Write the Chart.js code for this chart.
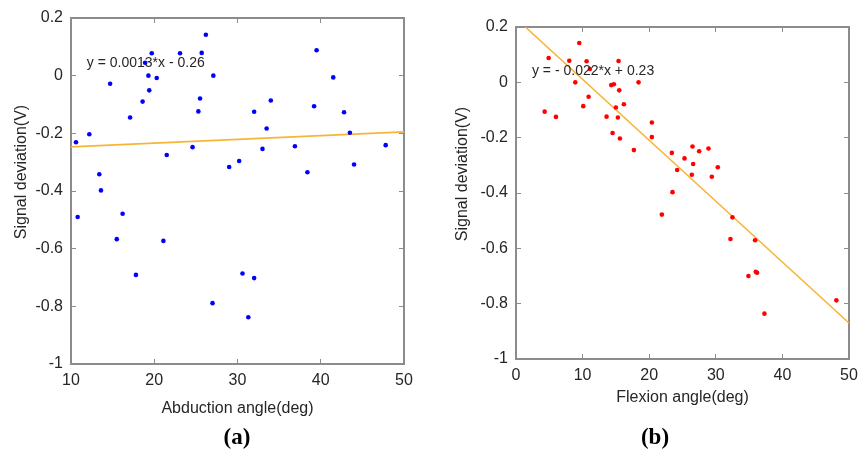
<!DOCTYPE html>
<html>
<head>
    <title>Signal deviation vs angle</title>
    <script src="https://cdn.jsdelivr.net/npm/chart.js@4"></script>
    <style>
        body { margin: 0; background: #fff; width: 858px; height: 450px; position: relative; overflow: hidden; }
        canvas { position: absolute; top: 0; }
        .tag { position: absolute; top: 424px; font: bold 23px "Liberation Serif", serif; color: #000; transform: translateX(-50%); }
    </style>
</head>
<body>
<canvas id="chartA" width="430" height="425" style="left:0"></canvas>
<canvas id="chartB" width="418" height="425" style="left:440px"></canvas>
<div class="tag" style="left:237px">(a)</div>
<div class="tag" style="left:655px">(b)</div>
<script>
    // (a) abduction angle vs signal deviation
    var abdAngle = [10.6, 10.8, 12.2, 13.4, 13.6, 14.7, 15.5, 16.2, 17.1, 17.8, 18.6, 18.9, 19.3, 19.4, 19.7,
                    20.3, 21.1, 21.5, 23.1, 24.6, 25.3, 25.5, 25.7, 26.2, 27.0, 27.1, 29.0, 30.2, 30.6, 31.3,
                    32.0, 32.0, 33.0, 33.5, 34.0, 36.9, 38.4, 39.2, 39.5, 41.5, 42.8, 43.5, 44.0, 47.8];
    var abdDev = [-0.231, -0.490, -0.203, -0.342, -0.398, -0.028, -0.567, -0.479, -0.145, -0.691, -0.090, 0.045, 0.000, -0.051, 0.078,
                  -0.008, -0.573, -0.275, 0.078, -0.248, -0.124, -0.079, 0.079, 0.142, -0.789, 0.000, -0.317, -0.296, -0.686, -0.838,
                  -0.125, -0.702, -0.254, -0.183, -0.086, -0.245, -0.335, -0.106, 0.088, -0.006, -0.127, -0.198, -0.308, -0.241];
    var fitA_x = [10, 50];
    var fitA_y = [-0.247, -0.195];

    // (b) flexion angle vs signal deviation
    var flexAngle = [4.3, 4.9, 6.0, 8.0, 8.9, 9.5, 10.1, 10.6, 10.9, 11.1, 13.6, 14.3, 14.5, 14.7, 15.0,
                     15.3, 15.4, 15.5, 15.6, 16.2, 17.7, 18.4, 20.4, 20.4, 21.9, 23.4, 23.5, 24.2, 25.3, 26.4,
                     26.5, 26.6, 27.5, 28.9, 29.4, 30.3, 32.2, 32.5, 34.9, 35.9, 36.0, 36.2, 37.3, 48.1];
    var flexDev = [-0.106, 0.088, -0.125, 0.078, 0.000, 0.142, -0.086, 0.076, -0.052, 0.048, -0.124, -0.010, -0.183, -0.007, -0.091,
                   -0.127, 0.077, -0.029, -0.203, -0.079, -0.245, 0.000, -0.145, -0.198, -0.478, -0.255, -0.397, -0.317, -0.275, -0.334,
                   -0.232, -0.295, -0.249, -0.239, -0.341, -0.307, -0.566, -0.488, -0.700, -0.571, -0.685, -0.688, -0.836, -0.788];
    var fitB_x = [1.4, 50];
    var fitB_y = [0.2, -0.87];

    var yTicks = [0.2, 0, -0.2, -0.4, -0.6, -0.8, -1];

    Chart.defaults.font.family = '"Liberation Sans", Arial, sans-serif';
    Chart.defaults.color = '#262626';

    function pts(xs, ys) {
        return xs.map(function (x, i) { return {x: x, y: ys[i]}; });
    }

    // equation text and y axis title
    var notes = {
        id: 'notes',
        afterDatasetsDraw: function (chart, args, opts) {
            var ctx = chart.ctx, a = chart.chartArea;
            var sx = chart.scales.x, sy = chart.scales.y;
            ctx.save();
            ctx.fillStyle = '#262626';
            ctx.font = '14px "Liberation Sans", Arial, sans-serif';
            ctx.textBaseline = 'middle';
            ctx.textAlign = 'left';
            ctx.fillText(opts.eq, sx.getPixelForValue(opts.eqX), sy.getPixelForValue(opts.eqY));
            ctx.translate(opts.titleX, (a.top + a.bottom) / 2 - 19);
            ctx.rotate(-Math.PI / 2);
            ctx.textAlign = 'center';
            ctx.font = '16px "Liberation Sans", Arial, sans-serif';
            ctx.fillText('Signal deviation(V)', 0, 0);
            ctx.restore();
        }
    };

    function makeChart(id, xs, ys, fx, fy, color, xMin, xTitle, yWidth, xHeight, pad, titlePad, note) {
        var axisGrid = {display: true, drawOnChartArea: false, drawTicks: true, tickLength: -5, color: '#8c8c8c'};
        var border = {display: true, color: '#8c8c8c', width: 2};
        return new Chart(document.getElementById(id), {
            type: 'scatter',
            data: {
                datasets: [{
                    data: pts(xs, ys),
                    backgroundColor: color,
                    borderWidth: 0,
                    pointRadius: 2.3
                },
                {
                    type: 'line',
                    data: pts(fx, fy),
                    borderColor: '#f7b538',
                    borderWidth: 1.6,
                    pointRadius: 0,
                    fill: false
                }]
            },
            options: {
                responsive: false,
                animation: false,
                layout: {padding: pad},
                scales: {
                    x: {
                        type: 'linear', position: 'bottom', min: xMin, max: 50,
                        ticks: {stepSize: 10, padding: 12, font: {size: 16}},
                        grid: axisGrid, border: border,
                        title: {display: true, text: xTitle, font: {size: 16}, padding: {top: 0, bottom: titlePad}},
                        afterFit: function (s) { s.height = xHeight; s.paddingLeft = 0; s.paddingRight = 0; }
                    },
                    x2: {
                        type: 'linear', position: 'top', min: xMin, max: 50,
                        ticks: {stepSize: 10, display: false},
                        grid: axisGrid, border: border,
                        afterFit: function (s) { s.height = 0; s.paddingLeft = 0; s.paddingRight = 0; }
                    },
                    y: {
                        type: 'linear', position: 'left', min: -1, max: 0.2,
                        afterBuildTicks: function (s) { s.ticks = yTicks.map(function (v) { return {value: v}; }); },
                        ticks: {padding: 13, font: {size: 16}, callback: function (v) { return String(Math.round(v * 10) / 10); }},
                        grid: axisGrid, border: border,
                        afterFit: function (s) { s.width = yWidth; s.paddingTop = 0; s.paddingBottom = 0; }
                    },
                    y2: {
                        type: 'linear', position: 'right', min: -1, max: 0.2,
                        afterBuildTicks: function (s) { s.ticks = yTicks.map(function (v) { return {value: v}; }); },
                        ticks: {display: false},
                        grid: axisGrid, border: border,
                        afterFit: function (s) { s.width = 0; s.paddingTop = 0; s.paddingBottom = 0; }
                    }
                },
                plugins: {
                    legend: {display: false},
                    tooltip: {enabled: false},
                    notes: note
                }
            },
            plugins: [notes]
        });
    }

    makeChart('chartA', abdAngle, abdDev, fitA_x, fitA_y, '#0000ff', 10, 'Abduction angle(deg)',
        71, 61, {left: 0, top: 18, right: 26, bottom: 0}, 7,
        {eq: 'y = 0.0013*x - 0.26', eqX: 11.9, eqY: 0.045, titleX: 22});

    makeChart('chartB', flexAngle, flexDev, fitB_x, fitB_y, '#ff0000', 0, 'Flexion angle(deg)',
        76, 66, {left: 0, top: 27, right: 9, bottom: 0}, 18,
        {eq: 'y = - 0.022*x + 0.23', eqX: 2.4, eqY: 0.042, titleX: 23});
</script>
</body>
</html>
